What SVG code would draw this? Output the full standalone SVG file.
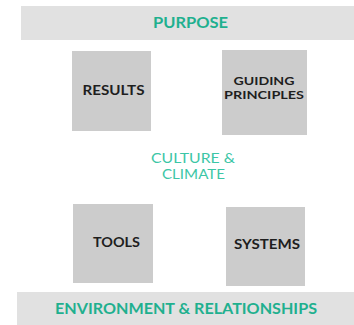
<svg xmlns="http://www.w3.org/2000/svg" width="354" height="325" viewBox="0 0 354 325">
<style>
.bar{fill:#e1e1e1}
.box{fill:#cccccc}
.t{font-family:"Lato","Liberation Sans",sans-serif;text-anchor:middle}
.teal{fill:#1fb08f;font-weight:700;font-size:15px}
.dark{fill:#1e1e1e;font-weight:700;font-size:14px}
.g2{font-size:12px}
.cc{fill:#3cc6a6;font-size:13.5px}
</style>
<rect width="354" height="325" fill="#ffffff"/>
<g id="purpose"><rect class="bar" x="21" y="6" width="333" height="34"/><text class="t teal" x="190.5" y="28" textLength="75" lengthAdjust="spacingAndGlyphs">PURPOSE</text></g>
<g id="results"><rect class="box" x="72" y="51" width="79" height="80"/><text class="t dark" x="113.5" y="95" textLength="62" lengthAdjust="spacingAndGlyphs">RESULTS</text></g>
<g id="guiding"><rect class="box" x="222" y="50" width="85" height="85"/><text class="t dark g2" x="264" y="85" textLength="61" lengthAdjust="spacingAndGlyphs">GUIDING</text><text class="t dark g2" x="264" y="99" textLength="80" lengthAdjust="spacingAndGlyphs">PRINCIPLES</text></g>
<g id="culture"><text class="t cc" x="193" y="163" textLength="84" lengthAdjust="spacingAndGlyphs">CULTURE &amp;</text><text class="t cc" x="193.5" y="179" textLength="63" lengthAdjust="spacingAndGlyphs">CLIMATE</text></g>
<g id="tools"><rect class="box" x="73" y="204" width="80" height="79"/><text class="t dark" x="116.5" y="247" textLength="47" lengthAdjust="spacingAndGlyphs">TOOLS</text></g>
<g id="systems"><rect class="box" x="226" y="207" width="79" height="79"/><text class="t dark" x="267" y="249" textLength="66" lengthAdjust="spacingAndGlyphs">SYSTEMS</text></g>
<g id="environment"><rect class="bar" x="17" y="292" width="337" height="33"/><text class="t teal" x="186" y="314" textLength="262" lengthAdjust="spacingAndGlyphs">ENVIRONMENT &amp; RELATIONSHIPS</text></g>
<g id="connectors"></g>
</svg>
